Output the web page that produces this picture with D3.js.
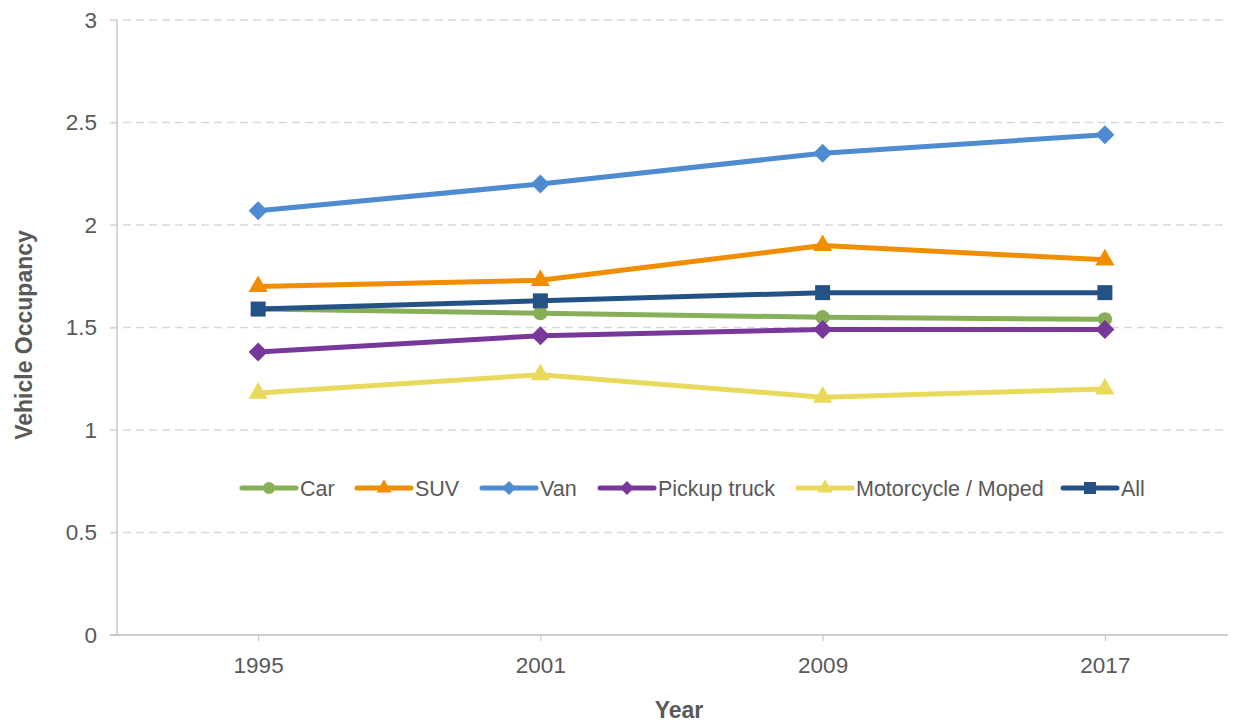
<!DOCTYPE html>
<html><head><meta charset="utf-8">
<script src="https://cdn.jsdelivr.net/npm/d3@7"></script>
<style>body{margin:0;background:#fff;} text{font-family:"Liberation Sans",Arial,sans-serif;}</style>
</head><body><svg id="c" width="1238" height="722"></svg>
<script>
const years = ["1995","2001","2009","2017"];
const car = [1.59, 1.57, 1.55, 1.54];
const suv = [1.70, 1.73, 1.90, 1.83];
const van = [2.07, 2.20, 2.35, 2.44];
const pickup = [1.38, 1.46, 1.49, 1.49];
const moto = [1.18, 1.27, 1.16, 1.20];
const all = [1.59, 1.63, 1.67, 1.67];
const yTicks = [0, 0.5, 1, 1.5, 2, 2.5, 3];
const yTickLabels = ["0","0.5","1","1.5","2","2.5","3"];

const series = [
  {name:"Car", values:car, color:"#87AE59", shape:"circle"},
  {name:"SUV", values:suv, color:"#F08E00", shape:"triangle"},
  {name:"Van", values:van, color:"#4F8BD0", shape:"diamond"},
  {name:"Pickup truck", values:pickup, color:"#77389A", shape:"diamond"},
  {name:"Motorcycle / Moped", values:moto, color:"#E9DA5C", shape:"triangle"},
  {name:"All", values:all, color:"#245287", shape:"square"}
];

const svg = d3.select("#c");
const x = d3.scalePoint().domain(years).range([117, 1246]).padding(0.5);
const y = d3.scaleLinear().domain([0,3]).range([635, 20]);
const grey = "#595959";
const FS = 21.5, TFS = 22.5;

// gridlines
svg.append("g").selectAll("line").data(yTicks.filter(d=>d>0)).join("line")
  .attr("x1",110).attr("x2",1228).attr("y1",d=>y(d)).attr("y2",d=>y(d))
  .attr("stroke","#D9D9D9").attr("stroke-width",1.3).attr("stroke-dasharray","8,5");

// y axis
const yAxis = svg.append("g").attr("transform","translate(117,0)")
  .call(d3.axisLeft(y).tickValues(yTicks).tickFormat((d,i)=>yTickLabels[i]).tickSize(7).tickPadding(13));
yAxis.attr("font-size",TFS).attr("font-family","Liberation Sans, Arial, sans-serif");
yAxis.select(".domain").attr("stroke","#BFBFBF").attr("stroke-width",1.3).attr("d","M0,20V635");
yAxis.selectAll(".tick line").attr("stroke","#D9D9D9").attr("stroke-width",1.3);
yAxis.selectAll("text").attr("fill",grey).attr("font-size",TFS);

// x axis
const xAxis = svg.append("g").attr("transform","translate(0,635)")
  .call(d3.axisBottom(x).tickSize(6).tickPadding(16));
xAxis.attr("font-size",TFS).attr("font-family","Liberation Sans, Arial, sans-serif");
xAxis.select(".domain").attr("stroke","#BFBFBF").attr("stroke-width",1.6).attr("d","M110,0H1228");
xAxis.selectAll(".tick line").attr("stroke","#BFBFBF").attr("stroke-width",1);
xAxis.selectAll("text").attr("fill",grey).attr("font-size",TFS);

// axis titles
svg.append("text").attr("x",679).attr("y",718).attr("text-anchor","middle")
  .attr("fill",grey).attr("font-size",23).attr("font-weight","bold").text("Year");
svg.append("text").attr("transform","translate(32,335) rotate(-90)").attr("text-anchor","middle")
  .attr("fill",grey).attr("font-size",23).attr("font-weight","bold").text("Vehicle Occupancy");

function symbolPath(shape){
  if(shape==="circle") return d3.symbol(d3.symbolCircle, 160)();
  if(shape==="triangle") return d3.symbol(d3.symbolTriangle, 160)();
  if(shape==="diamond") return "M0,-9.5L9.5,0L0,9.5L-9.5,0Z";
  if(shape==="square") return "M-7.5,-7.5H7.5V7.5H-7.5Z";
}
function symbolPathSmall(shape){
  if(shape==="circle") return d3.symbol(d3.symbolCircle, 110)();
  if(shape==="triangle") return d3.symbol(d3.symbolTriangle, 100)();
  if(shape==="diamond") return "M0,-7L7,0L0,7L-7,0Z";
  if(shape==="square") return "M-6,-6H6V6H-6Z";
}

const line = d3.line().x((d,i)=>x(years[i])).y(d=>y(d));
series.forEach(s=>{
  const g = svg.append("g");
  g.append("path").attr("d",line(s.values)).attr("fill","none")
    .attr("stroke",s.color).attr("stroke-width",5).attr("stroke-linejoin","round").attr("stroke-linecap","round");
  g.selectAll("path.m").data(s.values).join("path").attr("class","m")
    .attr("transform",(d,i)=>`translate(${x(years[i])},${y(d)})`)
    .attr("d",symbolPath(s.shape)).attr("fill",s.color);
});

// legend
const legendX = [242, 357, 482, 600, 798, 1063];
series.forEach((s,i)=>{
  const lx = legendX[i], ly = 488;
  svg.append("line").attr("x1",lx).attr("x2",lx+54).attr("y1",ly).attr("y2",ly)
    .attr("stroke",s.color).attr("stroke-width",5).attr("stroke-linecap","round");
  svg.append("path").attr("transform",`translate(${lx+27},${ly})`).attr("d",symbolPathSmall(s.shape)).attr("fill",s.color);
  svg.append("text").attr("x",lx+58).attr("y",ly+8).attr("fill",grey).attr("font-size",FS).text(s.name);
});
</script></body></html>
